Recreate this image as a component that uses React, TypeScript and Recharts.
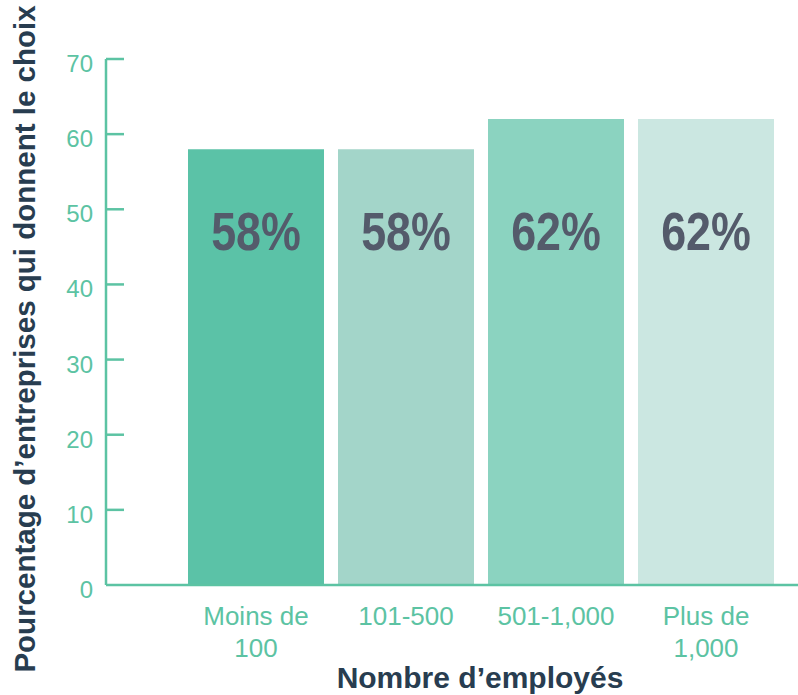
import React from 'react';
import { BarChart, Bar, XAxis, YAxis, Cell, LabelList, Label } from 'recharts';

// Data
const CATEGORIES = ['Moins de 100', '101-500', '501-1,000', 'Plus de 1,000'];
const CATEGORY_LINES: string[][] = [['Moins de', '100'], ['101-500'], ['501-1,000'], ['Plus de', '1,000']];
const VALUES = [58, 58, 62, 62];
const Y_TICKS = [0, 10, 20, 30, 40, 50, 60, 70];

const BAR_COLORS = ['#5bc2a7', '#a3d5c9', '#8bd3c0', '#cbe7e1'];
const AXIS_COLOR = '#5cc3a3';
const LABEL_COLOR = '#545b6b';
const TITLE_COLOR = '#283d50';
const FONT = '"Liberation Sans", Arial, Helvetica, sans-serif';

const data = CATEGORIES.map((name, i) => ({ name, value: VALUES[i], idx: i }));

function YTick(props: any) {
  const { x, y, payload } = props;
  return (
    <g>
      {payload.value !== 0 && (
        <line x1={x} x2={x + 18} y1={y} y2={y} stroke={AXIS_COLOR} strokeWidth={2.5} />
      )}
      <text x={x - 13} y={y + 13} textAnchor="end" fill={AXIS_COLOR} fontSize={24} fontFamily={FONT}>
        {payload.value}
      </text>
    </g>
  );
}

function XTick(props: any) {
  const { x, y, index } = props;
  const lines = CATEGORY_LINES[index] || [];
  return (
    <g>
      {lines.map((line, i) => (
        <text
          key={i}
          x={x}
          y={y + 40 + i * 32}
          textAnchor="middle"
          fill={AXIS_COLOR}
          fontSize={26}
          fontFamily={FONT}
        >
          {line}
        </text>
      ))}
    </g>
  );
}

// condensed bold look: squeeze Liberation Sans Bold horizontally
function PercentLabel(props: any) {
  const { x, y, width, height, value } = props;
  const cx = x + width / 2;
  const baseline = y + height - 335;
  return (
    <text
      transform={`translate(${cx},${baseline}) scale(0.83,1)`}
      x={0}
      y={0}
      textAnchor="middle"
      fill={LABEL_COLOR}
      fontSize={54}
      fontWeight="bold"
      fontFamily={FONT}
    >
      {value}%
    </text>
  );
}

function YTitle() {
  return (
    <text
      transform="translate(35,339) rotate(-90)"
      textAnchor="middle"
      fill={TITLE_COLOR}
      fontSize={29.5}
      fontWeight="bold"
      fontFamily={FONT}
    >
      Pourcentage d’entreprises qui donnent le choix
    </text>
  );
}

export default function App() {
  return (
    <div style={{ position: 'absolute', left: 0, top: 0, background: '#fff' }}>
      <BarChart
        width={798}
        height={695}
        data={data}
        margin={{ top: 59, right: 0, left: 0, bottom: 0 }}
        barCategoryGap={7}
      >
        <YAxis
          width={106}
          domain={[0, 70]}
          ticks={Y_TICKS}
          interval={0}
          tickSize={0}
          tickMargin={0}
          tickLine={false}
          axisLine={{ stroke: AXIS_COLOR, strokeWidth: 2.5 }}
          tick={<YTick />}
        >
          <Label content={<YTitle />} />
        </YAxis>
        <XAxis
          dataKey="name"
          height={110}
          padding={{ left: 75, right: 17 }}
          interval={0}
          tickSize={0}
          tickMargin={0}
          tickLine={false}
          axisLine={{ stroke: AXIS_COLOR, strokeWidth: 2.5 }}
          tick={<XTick />}
        >
          <Label
            value="Nombre d’employés"
            position="insideBottom"
            offset={7}
            dx={28}
            fill={TITLE_COLOR}
            fontSize={30}
            fontWeight="bold"
            fontFamily={FONT}
          />
        </XAxis>
        <Bar dataKey="value" isAnimationActive={false}>
          {data.map((d) => (
            <Cell key={d.name} fill={BAR_COLORS[d.idx]} />
          ))}
          <LabelList dataKey="value" content={<PercentLabel />} />
        </Bar>
      </BarChart>
    </div>
  );
}
